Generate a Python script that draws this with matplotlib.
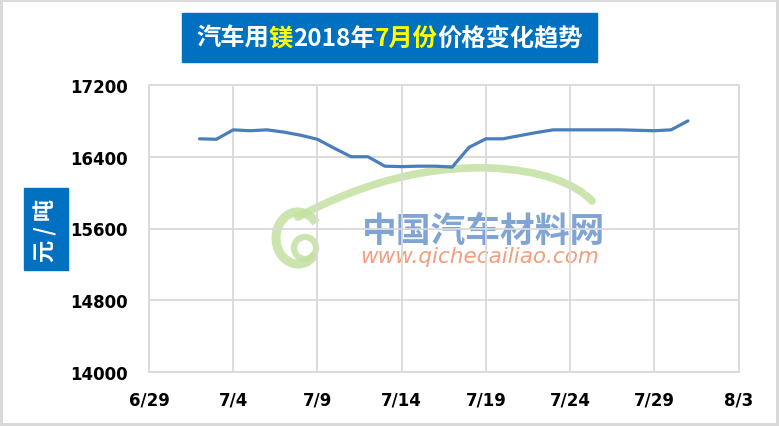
import numpy as np
import pandas as pd
import matplotlib
matplotlib.use('Agg')
import matplotlib.pyplot as plt
from matplotlib.patches import Rectangle, Arc, PathPatch, Circle
from matplotlib.path import Path

# Data (price of magnesium, yuan/ton)
dates = ['7/2', '7/3', '7/4', '7/5', '7/6', '7/7', '7/8', '7/9', '7/10', '7/11',
         '7/12', '7/13', '7/14', '7/15', '7/16', '7/17', '7/18', '7/19', '7/20', '7/21',
         '7/22', '7/23', '7/24', '7/25', '7/26', '7/27', '7/28', '7/29', '7/30', '7/31']
prices = [16600, 16595, 16700, 16690, 16700, 16675, 16640, 16595, 16495, 16400,
          16400, 16295, 16290, 16295, 16295, 16285, 16505, 16600, 16600, 16635,
          16670, 16700, 16700, 16700, 16700, 16700, 16695, 16690, 16700, 16800]
tick_dates = ['6/29', '7/4', '7/9', '7/14', '7/19', '7/24', '7/29', '8/3']
y_ticks = [14000, 14800, 15600, 16400, 17200]

title_parts = [('汽车用', 'white'), ('镁', '#FFFF00'), ('2018年', 'white'),
               ('7月份', '#FFFF00'), ('价格变化趋势', 'white')]
y_label = '元 / 吨'

W, H = 779, 427
CJK = ['Noto Sans CJK SC', 'DejaVu Sans']


def to_dt(s):
    m, d = s.split('/')
    return pd.Timestamp(2018, int(m), int(d))


x = [to_dt(s) for s in dates]
xt = [to_dt(s) for s in tick_dates]

fig = plt.figure(figsize=(W / 100, H / 100), dpi=100)
fig.patch.set_facecolor('white')
fig.patch.set_edgecolor('#D9D9D9')
fig.patch.set_linewidth(3)

# watermark layer (pixel coordinates)
wm = fig.add_axes([0, 0, 1, 1], zorder=0)
wm.set_xlim(0, W)
wm.set_ylim(H, 0)
wm.axis('off')
green = '#C3E0A0'
verts = [(298, 218), (365, 182), (430, 167), (490, 169),
         (540, 171), (575, 184), (592, 202)]
codes = [Path.MOVETO] + [Path.CURVE4] * 6
wm.add_patch(PathPatch(Path(verts, codes), fill=False, ec=green, lw=5.5, alpha=0.85,
                       capstyle='round'))
wm.add_patch(Arc((298, 239), 44, 52, theta1=45, theta2=320, ec=green, lw=6.5, alpha=0.85))
wm.add_patch(Circle((305, 249), 11, fill=False, ec=green, lw=4.5, alpha=0.85))
wm.text(484, 231, '中国汽车材料网', family=CJK, fontsize=25, fontweight='bold',
        color='#6A94CC', alpha=0.85, ha='center', va='center')
wm.text(480, 257, 'www.qichecailiao.com', fontsize=15.5, style='italic',
        color='#F2936F', alpha=0.9, ha='center', va='center')

# main chart
ax = fig.add_axes([149 / W, 1 - 373 / H, (738.5 - 149) / W, (373 - 86) / H], zorder=1)
ax.set_facecolor('none')
ax.plot(x, prices, color='#4A7EBB', lw=2.3, solid_joinstyle='round',
        solid_capstyle='round')
ax.set_xlim(xt[0], xt[-1])
ax.set_ylim(y_ticks[0], y_ticks[-1])
ax.set_xticks(xt)
ax.set_xticklabels(tick_dates)
ax.set_yticks(y_ticks)
ax.grid(True, color='#D9D9D9', lw=1.3)
ax.set_axisbelow(True)
for sp in ax.spines.values():
    sp.set_color('#D9D9D9')
    sp.set_linewidth(1.3)
ax.tick_params(length=0, labelsize=12, pad=15)
ax.tick_params(axis='x', pad=13)
for lab in ax.get_xticklabels() + ax.get_yticklabels():
    lab.set_fontweight('bold')

# title box
bx0, by0, bx1, by1 = 182, 14, 597, 63
fig.patches.append(Rectangle((bx0 / W, 1 - by1 / H), (bx1 - bx0) / W, (by1 - by0) / H,
                             transform=fig.transFigure, color='#0070C0', zorder=2))
renderer = fig.canvas.get_renderer()
texts = []
for s, c in title_parts:
    t = fig.text(0, 1 - 38.5 / H, s, family=CJK, fontsize=17.5, fontweight='bold',
                 color=c, va='center', ha='left', zorder=3)
    texts.append(t)
widths = [t.get_window_extent(renderer).width for t in texts]
start = (bx0 + bx1) / 2 - sum(widths) / 2
for t, w in zip(texts, widths):
    t.set_x(start / W)
    start += w

# y label box
fig.patches.append(Rectangle((24 / W, 1 - 271 / H), 44 / W, 82 / H,
                             transform=fig.transFigure, color='#0070C0', zorder=2))
fig.text(46 / W, 1 - 230 / H, y_label, family=CJK, fontsize=16, fontweight='bold',
         color='white', rotation=90, ha='center', va='center', zorder=3)

fig.savefig('out.png', dpi=100)
